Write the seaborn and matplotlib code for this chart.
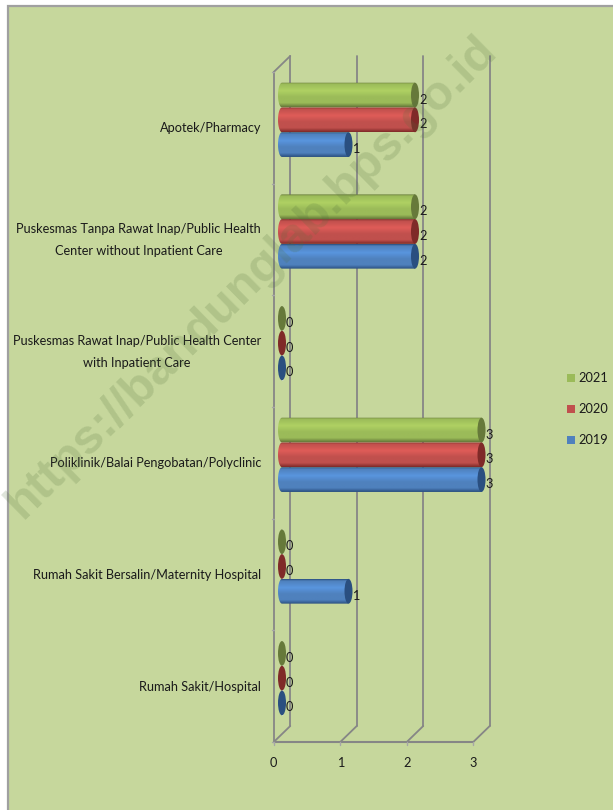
import numpy as np
import pandas as pd
import matplotlib
matplotlib.use("Agg")
import matplotlib.pyplot as plt
import seaborn as sns
from matplotlib.colors import LinearSegmentedColormap, to_rgb
from matplotlib.patches import Ellipse, Polygon, Rectangle

categories = [
    "Apotek/Pharmacy",
    "Puskesmas Tanpa Rawat Inap/Public Health\nCenter without Inpatient Care",
    "Puskesmas Rawat Inap/Public Health Center\nwith Inpatient Care",
    "Poliklinik/Balai Pengobatan/Polyclinic",
    "Rumah Sakit Bersalin/Maternity Hospital",
    "Rumah Sakit/Hospital",
]
years = ["2021", "2020", "2019"]
values_2021 = [2, 2, 0, 3, 0, 0]
values_2020 = [2, 2, 0, 3, 0, 0]
values_2019 = [1, 2, 0, 3, 1, 0]
xticks = [0, 1, 2, 3]

colors = {"2021": "#9BBB59", "2020": "#C0504D", "2019": "#4F81BD"}
dark = {"2021": "#66793A", "2020": "#7F2A28", "2019": "#2A4F80"}
light = {"2021": "#AFD163", "2020": "#DF5C58", "2019": "#5995DE"}

W, H = 613, 810
BG = "#C6D79C"
GRID = "#868686"
TXT = "#1a1a1a"
FS = 9.2

sns.set_theme(style="white")
plt.rcParams["font.family"] = ["Lato", "DejaVu Sans"]

df = pd.DataFrame({
    "category": categories * 3,
    "year": sum([[y] * 6 for y in years], []),
    "value": values_2021 + values_2020 + values_2019,
})

fig = plt.figure(figsize=(W / 100, H / 100), dpi=100, facecolor="white")
fig.patches.append(Rectangle((8 / W, -0.02), 1.1, 1.02 - 6 / H, transform=fig.transFigure,
                             facecolor=BG, edgecolor="#A0A0A0", lw=1.6, zorder=-1))

# axes sit on the middle of the 3D depth, the walls are drawn around them
px0, px3 = 282, 481.5
py_top, py_bot = 64, 734
ax = fig.add_axes([px0 / W, 1 - py_bot / H, (px3 - px0) / W, (py_bot - py_top) / H])
ax.patch.set_alpha(0)

sns.barplot(data=df, y="category", x="value", hue="year", order=categories,
            hue_order=years, palette=colors, width=0.665, gap=0, dodge=True,
            legend=False, saturation=1, ax=ax)
sns.despine(ax=ax, left=True, bottom=True)
ax.set_xlabel("")
ax.set_ylabel("")
ax.set_xticks([])
ax.set_yticks([])

xpx = (px3 - px0) / 3
ypx = (py_bot - py_top) / 6
dx = 8.25 / xpx
dy = 8 / ypx

# wall lines
for v in xticks:
    ax.plot([v + dx, v + dx], [5.5 - dy, -0.5 - dy], color=GRID, lw=1.3, clip_on=False, zorder=0.5)
    ax.plot([v - dx, v + dx], [5.5 + dy, 5.5 - dy], color=GRID, lw=1.3, clip_on=False, zorder=0.5)
    ax.plot([v - dx, v - dx], [5.5 + dy, 5.5 + dy + 0.03], color="#A6A6A6", lw=1, clip_on=False)
    ax.text(v - dx, 5.5 + dy + 0.19, str(v), ha="center", va="center", fontsize=FS, color=TXT)
ax.plot([-dx, 3 - dx], [5.5 + dy, 5.5 + dy], color=GRID, lw=1.5, clip_on=False, zorder=0.5)
ax.plot([-dx, -dx], [5.5 + dy, -0.5 + dy], color=GRID, lw=1.3, clip_on=False, zorder=0.5)
ax.plot([-dx, dx], [-0.5 + dy, -0.5 - dy], color=GRID, lw=1.3, clip_on=False, zorder=0.5)
for i in range(7):
    ax.plot([-dx - 0.03, -dx], [i - 0.5 + dy, i - 0.5 + dy], color="#A6A6A6", lw=1, clip_on=False)

# category labels
for i, lab in enumerate(categories):
    ax.text(-0.316, i + dy + 0.005, lab, ha="right", va="center", multialignment="center",
            linespacing=2.0, fontsize=FS, color=TXT)

# turn seaborn's flat bars into cylinders, gradient clipped to a round-ended shape
ramp = [0.0, 0.07, 0.34, 0.6, 0.84, 1.0]
t = np.linspace(np.pi / 2, 3 * np.pi / 2, 24)
for cont, year in zip(ax.containers, years):
    c_dark, c_mid, c_light = to_rgb(dark[year]), to_rgb(colors[year]), to_rgb(light[year])
    stops = [c_dark, c_mid, c_light, c_mid, c_mid, c_dark]
    cmap = LinearSegmentedColormap.from_list("cyl", list(zip(ramp, stops)))
    for bar in cont:
        x, w = bar.get_x(), bar.get_width()
        y, h = bar.get_y(), bar.get_height()
        rx = 4 / xpx
        if w > 0:
            im = ax.imshow(np.linspace(0, 1, 64).reshape(-1, 1), cmap=cmap, aspect="auto",
                           extent=(x - rx, x + w, y + h, y), zorder=2.1)
            outline = np.column_stack([x + rx * np.cos(t), y + h / 2 - h / 2 * np.sin(t)])
            outline = np.vstack([outline, [x + w, y + h], [x + w, y]])
            shape = Polygon(outline, transform=ax.transData, facecolor="none", edgecolor="none")
            ax.add_patch(shape)
            im.set_clip_path(shape)
            im.set_clip_box(fig.bbox)
            bar.set_visible(False)
        ax.add_patch(Ellipse((x + w, y + h / 2), 2 * rx, h, facecolor=c_dark, edgecolor="none",
                             zorder=2.2, clip_on=False))
        ax.text(x + w + rx + 0.0, y + h / 2 + 0.04, f"{int(w)}", ha="left", va="center",
                fontsize=FS, color=TXT, zorder=3)
ax.set_xlim(0, 3)
ax.set_ylim(5.5, -0.5)

# legend
for year, y in zip(years, [378, 409, 440]):
    fig.patches.append(Rectangle((567 / W, 1 - (y + 4) / H), 8 / W, 8 / H, transform=fig.transFigure,
                                 facecolor=colors[year], edgecolor="none"))
    fig.text(578 / W, 1 - y / H, year, ha="left", va="center", fontsize=FS, color=TXT)

# watermark
fig.text(252 / W, 1 - 277 / H, "https://bandunglab.bps.go.id", rotation=44.5, rotation_mode="anchor",
         ha="center", va="center", fontsize=35, fontweight="bold",
         family=["Liberation Sans", "DejaVu Sans"], color="#4f6e3a", alpha=0.19, zorder=10)

fig.savefig("out.png", dpi=100, facecolor="white")
